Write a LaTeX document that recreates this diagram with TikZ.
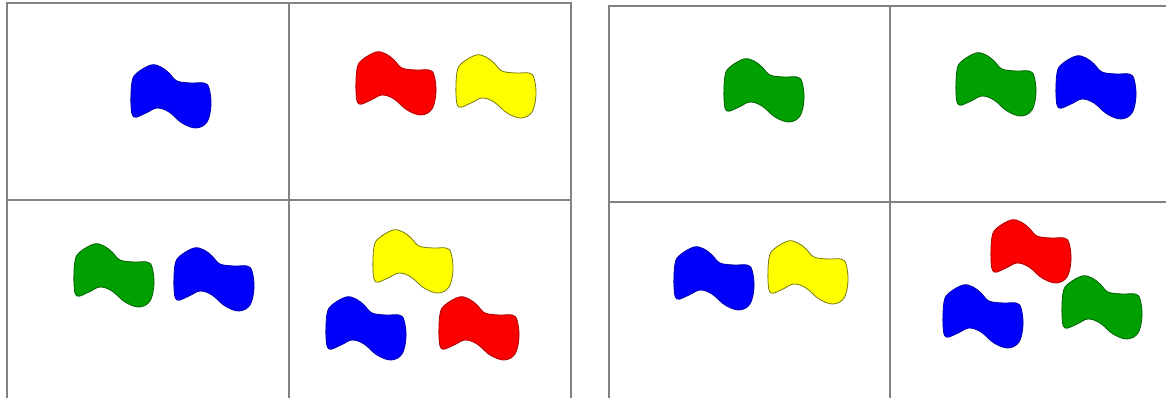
\documentclass[tikz,border=0pt]{standalone}
\definecolor{gridgray}{RGB}{130,130,130}
\definecolor{bblue}{RGB}{0,0,250}
\definecolor{bred}{RGB}{250,0,0}
\definecolor{byellow}{RGB}{255,255,0}
\definecolor{bgreen}{RGB}{0,160,0}
\definecolor{yline}{RGB}{120,120,20}
\tikzset{
  gridline/.style={draw=gridgray, line width=1.4pt},
  blueblob/.style={fill=bblue, draw=bblue!70!black, line width=0.8pt},
  redblob/.style={fill=bred, draw=bred!70!black, line width=0.8pt},
  yellowblob/.style={fill=byellow, draw=yline, line width=0.8pt},
  greenblob/.style={fill=bgreen, draw=bgreen!60!black, line width=0.8pt},
}
\newcommand\myblob[3]{%
  \begin{scope}[shift={(#1,#2)}]
    \path[#3] plot[smooth cycle, tension=0.6] coordinates {(20,0) (30,2) (38,8) (46,16) (60,18) (73,18) (78,23) (80,40) (76,57) (65,63) (51,58) (38,47) (26,43) (15,48) (3,52) (0,40) (1,17) (6,8)};
  \end{scope}}
\begin{document}
\begin{tikzpicture}[x=1pt,y=-1pt]
\useasboundingbox (0,0) rectangle (1166,398);
\fill[white] (0,0) rectangle (1166,398);
% left grid
\draw[gridline] (7,398) -- (7,3) -- (571,3) -- (571,398);
\draw[gridline] (289,3) -- (289,398);
\draw[gridline] (7,200) -- (571,200);
% right grid
\draw[gridline] (609,398) -- (609,6) -- (1166,6);
\draw[gridline] (890,6) -- (890,398);
\draw[gridline] (609,202) -- (1166,202);
% left grid blobs
\myblob{131}{65}{blueblob}
\myblob{356}{52}{redblob}
\myblob{456}{55}{yellowblob}
\myblob{74}{244}{greenblob}
\myblob{174}{248}{blueblob}
\myblob{373}{230}{yellowblob}
\myblob{326}{297}{blueblob}
\myblob{439}{297}{redblob}
% right grid blobs
\myblob{724}{59}{greenblob}
\myblob{956}{53}{greenblob}
\myblob{1056}{56}{blueblob}
\myblob{674}{247}{blueblob}
\myblob{768}{241}{yellowblob}
\myblob{991}{220}{redblob}
\myblob{943}{285}{blueblob}
\myblob{1062}{276}{greenblob}
\end{tikzpicture}
\end{document}
